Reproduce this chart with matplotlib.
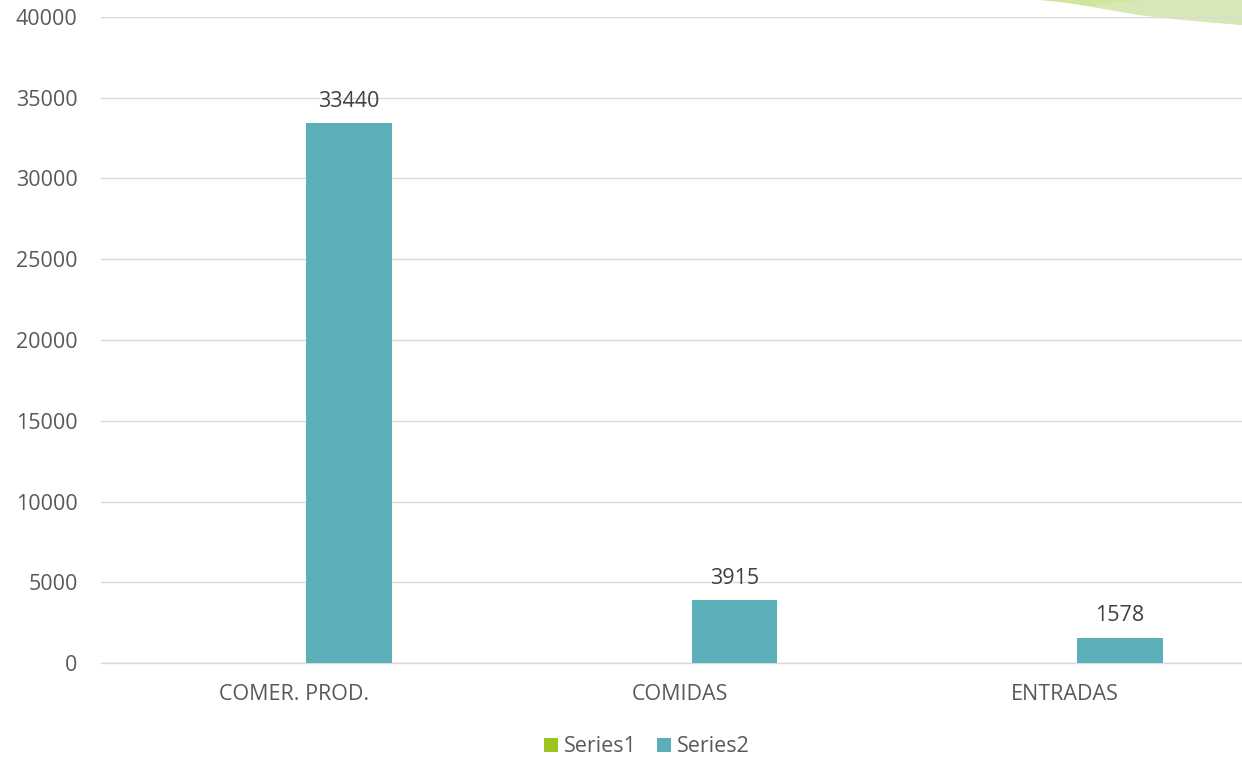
import matplotlib
matplotlib.use("Agg")
import matplotlib.pyplot as plt
import numpy as np
from matplotlib.patches import Polygon
from matplotlib.transforms import IdentityTransform

categories = ["COMER. PROD.", "COMIDAS", "ENTRADAS"]
series1 = [0, 0, 0]
series2 = [33440, 3915, 1578]
yticks = [0, 5000, 10000, 15000, 20000, 25000, 30000, 35000, 40000]

plt.rcParams['font.family'] = ['Open Sans', 'DejaVu Sans']
txt = '#595959'
c1 = '#9BC41F'
c2 = '#5BAFB8'
fs = 15.5

W, H = 1242, 760
fig = plt.figure(figsize=(W/100, H/100), dpi=100)
ax = fig.add_axes([101.25/W, 1-663/H, (1257.75-101.25)/W, (663-17)/H])
ax.patch.set_alpha(0)
ax.set_zorder(1)

# decorative shape (top-right corner)
dark = Polygon([(1040, 760), (1065, 757.3), (1090, 753.5), (1140, 745), (1242, 735), (1242, 760)],
               closed=True, transform=IdentityTransform(), facecolor='#D2E59E', edgecolor='none', zorder=-2)
light = Polygon([(1090, 753.5), (1115, 749.2), (1140, 745), (1165, 742), (1190, 739.3), (1216, 737), (1242, 735),
                 (1242, 760), (1140, 760), (1115, 757.8), (1100, 755.5)],
                closed=True, transform=IdentityTransform(), facecolor='#D8E7B6', edgecolor='none', zorder=-1)
fig.patches.extend([dark, light])

x = np.arange(len(categories))
bw = 0.223
off = 0.1427
ax.bar(x - off, series1, bw, color=c1, label='Series1', zorder=3)
ax.bar(x + off, series2, bw, color=c2, label='Series2', zorder=3)

for xi, v in zip(x, series2):
    ax.annotate(f"{v}", (xi + off, v), xytext=(0, 8), textcoords='offset points',
                ha='center', va='bottom', fontsize=fs, color='#404040')

ax.set_xlim(-0.5, 2.5)
ax.set_ylim(0, 40000)
ax.set_yticks(yticks)
ax.set_yticklabels([str(t) for t in yticks])
ax.set_xticks(x)
ax.set_xticklabels(categories)
ax.grid(axis='y', color='#D9D9D9', linewidth=1.0, zorder=0)
ax.set_axisbelow(True)
for s in ['top', 'right', 'left']:
    ax.spines[s].set_visible(False)
ax.spines['bottom'].set_color('#D9D9D9')
ax.spines['bottom'].set_linewidth(1.0)
ax.tick_params(axis='both', length=0, colors=txt, labelsize=fs)
ax.tick_params(axis='y', pad=17)
ax.tick_params(axis='x', pad=15)

leg = fig.legend(loc='center', bbox_to_anchor=(647/W, 1-747/H), ncol=2, frameon=False,
                 fontsize=fs, handlelength=0.62, handleheight=0.62, handletextpad=0.3,
                 columnspacing=0.95, labelcolor=txt)

fig.savefig('out.png', dpi=100)
